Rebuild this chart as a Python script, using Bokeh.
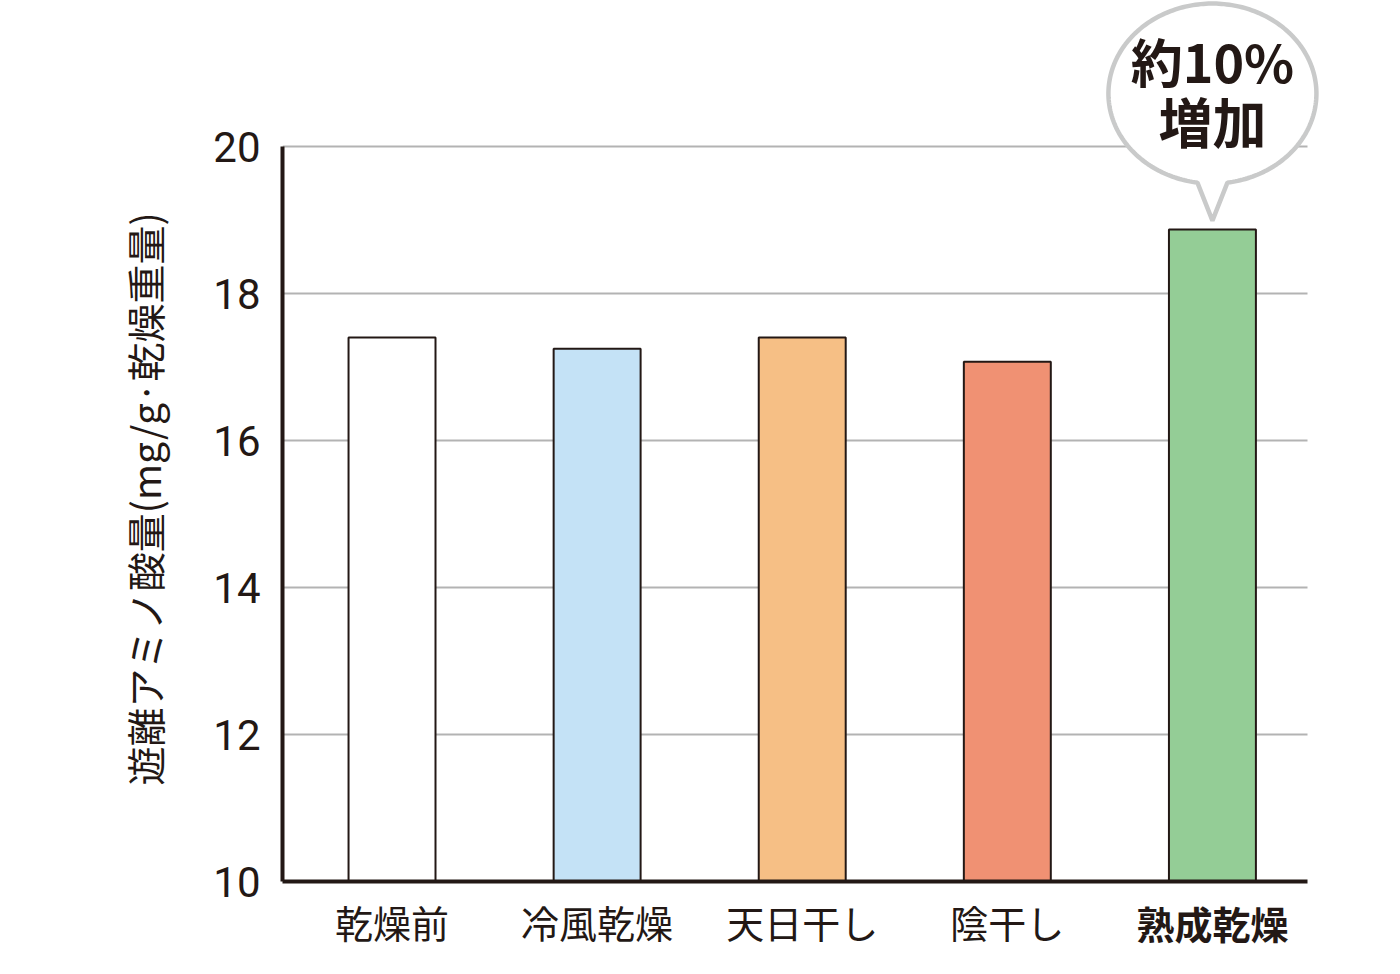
import numpy as np
from bokeh.plotting import figure
from bokeh.models import Range1d, FixedTicker, PolyAnnotation, Label, LinearAxis, Title
from bokeh.embed import file_html
from bokeh.resources import INLINE

# ---- data ----
categories = ["乾燥前", "冷風乾燥", "天日干し", "陰干し", "熟成乾燥"]
values = [17.40, 17.25, 17.40, 17.07, 18.87]
colors = ["#ffffff", "#c4e2f6", "#f6bf85", "#f09173", "#94cd96"]
y_ticks = [10, 12, 14, 16, 18, 20]
y_label = "遊離アミノ酸量(mg/g·乾燥重量)"
callout = ["約10%", "増加"]

# ---- layout ----
INK = "#231815"
JP = "Noto Sans CJK JP"
NUM = "Roboto"
W, H = 1384, 958
BL, BR, BT, BB = 282, 62, 0, 77
FW, FH = W - BL - BR, H - BT - BB
PX_X = 205.1           # pixels per category slot
PX_Y = 73.5            # pixels per y unit
Y0 = y_ticks[0]
Y1 = Y0 + FH / PX_Y
X0 = -0.534
X1 = X0 + FW / PX_X
XB = X0 + 1025 / PX_X  # right end of axis / grid lines
n = len(categories)
xs = list(range(n))

p = figure(width=W, height=H, x_range=Range1d(X0, X1), y_range=Range1d(Y0, Y1),
           output_backend="svg", toolbar_location=None,
           min_border_left=BL, min_border_right=BR,
           min_border_top=BT, min_border_bottom=BB)
p.title.visible = False
p.outline_line_color = None
p.background_fill_color = "white"
p.border_fill_color = "white"

# axes
def style_axis(ax):
    ax.axis_line_color = INK
    ax.axis_line_width = 4
    ax.major_tick_line_color = None
    ax.minor_tick_line_color = None
    ax.major_tick_out = 0
    ax.major_tick_in = 0
    ax.major_label_text_color = INK

style_axis(p.xaxis[0])
style_axis(p.yaxis[0])

p.xaxis.ticker = FixedTicker(ticks=xs)
p.xaxis.bounds = (X0, XB)
p.xaxis.major_label_overrides = {i: (c if i < n - 1 else " ") for i, c in enumerate(categories)}
p.xaxis.major_label_text_font = JP
p.xaxis.major_label_text_font_size = "38px"
p.xaxis.major_label_standoff = 12

# second bottom axis only for the emphasised (bold) last category
ax2 = LinearAxis(ticker=FixedTicker(ticks=[xs[-1]]),
                 major_label_overrides={xs[-1]: categories[-1]},
                 bounds=(X0, XB))
style_axis(ax2)
ax2.axis_line_color = None
ax2.major_label_text_font = JP
ax2.major_label_text_font_size = "38px"
ax2.major_label_text_font_style = "bold"
ax2.major_label_standoff = -57
p.add_layout(ax2, "below")

p.yaxis.ticker = FixedTicker(ticks=y_ticks)
p.yaxis.bounds = (y_ticks[0], y_ticks[-1])
p.yaxis.major_label_text_font = NUM
p.yaxis.major_label_text_font_size = "42px"
p.yaxis.major_label_standoff = 22

p.add_layout(Title(text=y_label, align="left", offset=96, standoff=77,
                   text_font=JP, text_font_size="39px", text_font_style="normal",
                   text_color=INK), "left")

p.xgrid.visible = False
p.ygrid.grid_line_color = "#b3b3b3"
p.ygrid.grid_line_width = 2
p.ygrid.cross_bounds = (X0, XB)

# bars
p.vbar(x=xs, top=values, bottom=Y0, width=0.424, fill_color=colors,
       line_color=INK, line_width=2)

# speech bubble above the last bar
rx, ry = 104, 90
tip_y = values[-1] + 9 / PX_Y
cy = tip_y + 127 / PX_Y
cx = xs[-1]
phi = np.arcsin(15 / rx)
t = np.linspace(-np.pi / 2 + phi, 3 * np.pi / 2 - phi, 240)
bx = list(cx + rx * np.cos(t) / PX_X) + [cx]
by = list(cy + ry * np.sin(t) / PX_Y) + [tip_y]
p.add_layout(PolyAnnotation(xs=bx, ys=by, fill_color="white", fill_alpha=1.0,
                            line_color="#c9caca", line_alpha=1.0, line_width=4.5))
for txt, off, size in zip(callout, (33, -27), ("52px", "54px")):
    p.add_layout(Label(x=cx, y=cy, y_offset=off, text=txt, text_align="center",
                       text_baseline="middle", text_font=JP, text_font_style="bold",
                       text_font_size=size, text_color=INK))

open("out.html", "w").write(file_html(p, INLINE))
